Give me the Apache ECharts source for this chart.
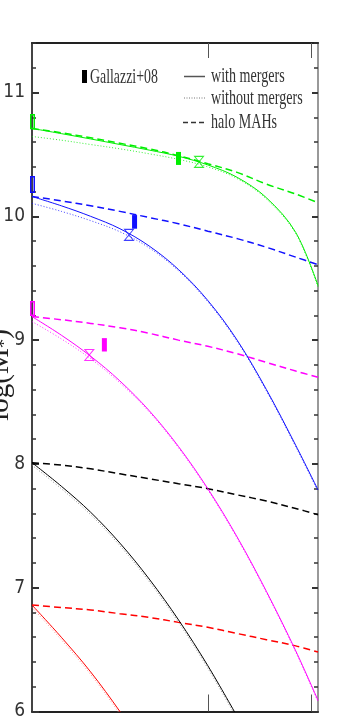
<!DOCTYPE html>
<html>
<head>
<meta charset="utf-8">
<script src="https://cdn.jsdelivr.net/npm/echarts@6/dist/echarts.min.js"></script>
<style>
  html, body { margin: 0; padding: 0; background: #fff; }
  #chart { width: 337px; height: 721px; }
</style>
</head>
<body>
<div id="chart"></div>
<script>
// x positions are log10(1+z)
const xLog = [0, 0.05, 0.1, 0.15, 0.2, 0.25, 0.3, 0.35, 0.4, 0.45, 0.488]
const zTicks = [1, 2]
const yMajor = [6, 7, 8, 9, 10, 11]

// log(M*) tracks: with mergers / without mergers / halo MAHs
const greenWith = [10.71, 10.668, 10.625, 10.58, 10.535, 10.485, 10.415, 10.315, 10.15, 9.87, 9.44]
const greenWithout = [10.645, 10.615, 10.58, 10.545, 10.505, 10.46, 10.40, 10.305, 10.14, 9.86, 9.43]
const greenHalo = [10.71, 10.675, 10.635, 10.59, 10.545, 10.49, 10.425, 10.355, 10.26, 10.18, 10.11]

const blueWith = [10.16, 10.085, 10.0, 9.90, 9.76, 9.57, 9.32, 9.00, 8.60, 8.15, 7.79]
const blueWithout = [10.105, 10.04, 9.965, 9.875, 9.745, 9.56, 9.31, 8.99, 8.59, 8.14, 7.78]
const blueHalo = [10.16, 10.125, 10.085, 10.04, 9.99, 9.94, 9.88, 9.82, 9.75, 9.67, 9.61]

const magentaWith = [9.19, 9.04, 8.87, 8.67, 8.43, 8.14, 7.80, 7.41, 6.97, 6.49, 6.09]
const magentaWithout = [9.15, 9.01, 8.85, 8.655, 8.42, 8.13, 7.79, 7.40, 6.96, 6.48, 6.08]
const magentaHalo = [9.19, 9.165, 9.135, 9.10, 9.055, 9.00, 8.95, 8.89, 8.82, 8.75, 8.70]

const blackWith = [8.01, 7.82, 7.61, 7.36, 7.07, 6.74, 6.37, 5.96]
const blackWithout = [7.99, 7.80, 7.59, 7.34, 7.05, 6.72, 6.35, 5.94]
const blackHalo = [8.01, 7.99, 7.96, 7.92, 7.88, 7.84, 7.80, 7.75, 7.70, 7.64, 7.59]

const redWith = [6.86, 6.60, 6.32, 6.0, 5.65]
const redWithout = [6.84, 6.58, 6.30, 5.98, 5.63]
const redHalo = [6.86, 6.84, 6.82, 6.79, 6.76, 6.72, 6.68, 6.63, 6.58, 6.53, 6.48]

// z=0 observed ranges [x, low, high]
const obsGreen = [0, 10.71, 10.82]
const obsBlue = [0, 10.195, 10.32]
const obsMagenta = [0, 9.20, 9.31]

// Gallazzi+08 [x, low, high]
const galGreen = [0.25, 10.415, 10.52]
const galBlue = [0.175, 9.90, 10.01]
const galMagenta = [0.1235, 8.908, 9.016]

// star markers [x, y]
const starGreen = [0.285, 10.44]
const starBlue = [0.1655, 9.85]
const starMagenta = [0.0978, 8.88]

const COLORS = { green: '#00ee00', blue: '#1010ff', magenta: '#ff00ff', black: '#000000', red: '#ff0000' }

const pairs = (ys) => ys.map((y, i) => [xLog[i], y])

const lineSeries = (ys, color, kind) => ({
  type: 'line',
  data: pairs(ys),
  symbol: 'none',
  smooth: 0.35,
  clip: true,
  lineStyle: {
    color,
    width: kind === 'dashed' ? 1.5 : 1,
    type: kind === 'dashed' ? [7, 4] : kind === 'dotted' ? [1, 2] : 'solid',
    opacity: kind === 'dotted' ? 0.8 : 1
  },
  z: kind === 'solid' ? 3 : 2
})

const rectSeries = (item, color, filled) => ({
  type: 'custom',
  data: [item],
  encode: { x: 0, y: [1, 2] },
  clip: false,
  z: 4,
  renderItem: (params, api) => {
    const lo = api.coord([api.value(0), api.value(1)])
    const hi = api.coord([api.value(0), api.value(2)])
    const w = filled ? 5 : 3.5
    return {
      type: 'rect',
      shape: { x: lo[0] - w / 2 + (filled ? 0 : 0.5), y: hi[1], width: w, height: lo[1] - hi[1] },
      style: filled ? { fill: color } : { fill: 'none', stroke: color, lineWidth: 1.5 }
    }
  }
})

const starSeries = (pt, color) => ({
  type: 'scatter',
  data: [pt],
  symbol: 'path://M0,0 L10,0 L0,12 L10,12 Z',
  symbolSize: [9, 11],
  itemStyle: { color: 'rgba(0,0,0,0)', borderColor: color, borderWidth: 1 },
  z: 5
})

const series = [
  lineSeries(greenHalo, COLORS.green, 'dashed'),
  lineSeries(greenWithout, COLORS.green, 'dotted'),
  lineSeries(greenWith, COLORS.green, 'solid'),
  lineSeries(blueHalo, COLORS.blue, 'dashed'),
  lineSeries(blueWithout, COLORS.blue, 'dotted'),
  lineSeries(blueWith, COLORS.blue, 'solid'),
  lineSeries(magentaHalo, COLORS.magenta, 'dashed'),
  lineSeries(magentaWithout, COLORS.magenta, 'dotted'),
  lineSeries(magentaWith, COLORS.magenta, 'solid'),
  lineSeries(blackHalo, COLORS.black, 'dashed'),
  lineSeries(blackWithout, '#777', 'dotted'),
  lineSeries(blackWith, COLORS.black, 'solid'),
  lineSeries(redHalo, COLORS.red, 'dashed'),
  lineSeries(redWithout, '#ff7777', 'dotted'),
  lineSeries(redWith, COLORS.red, 'solid'),
  rectSeries(obsGreen, COLORS.green, false),
  rectSeries(obsBlue, COLORS.blue, false),
  rectSeries(obsMagenta, COLORS.magenta, false),
  rectSeries(galGreen, COLORS.green, true),
  rectSeries(galBlue, COLORS.blue, true),
  rectSeries(galMagenta, COLORS.magenta, true),
  starSeries(starGreen, COLORS.green),
  starSeries(starBlue, COLORS.blue),
  starSeries(starMagenta, COLORS.magenta)
]

const xTickVals = zTicks.map(z => Math.log10(1 + z))

const xAxisBase = (position, tickLen) => ({
  type: 'value',
  position,
  min: 0,
  max: 0.488,
  axisLine: { show: true, onZero: false, lineStyle: { color: '#222', width: 2 } },
  axisTick: { show: true, inside: true, length: tickLen, customValues: xTickVals, lineStyle: { color: '#555', width: 1 } },
  axisLabel: { show: false },
  splitLine: { show: false }
})

const yAxisBase = (position, opts) => ({
  type: 'value',
  position,
  min: 6,
  max: 11.4,
  splitLine: { show: false },
  ...opts
})

const LABEL_FONT = "'Liberation Sans Narrow', 'DejaVu Sans Condensed', sans-serif"
const TEXT_FONT = "'Liberation Serif', 'DejaVu Serif', serif"

const chart = echarts.init(document.getElementById('chart'))

chart.setOption({
  animation: false,
  backgroundColor: '#fff',
  grid: { left: 32, right: 19, top: 43, bottom: 9 },
  xAxis: [xAxisBase('bottom', 17), xAxisBase('top', 15)],
  yAxis: [
    yAxisBase('left', {
      axisLine: { show: true, lineStyle: { color: '#444', width: 2 } },
      axisTick: { show: true, inside: true, length: 7, customValues: yMajor, lineStyle: { color: '#333', width: 2 } },
      axisLabel: { show: true, customValues: yMajor, margin: 7, color: '#333', fontSize: 19, fontFamily: LABEL_FONT }
    }),
    yAxisBase('left', {
      interval: 0.2,
      axisLine: { show: false },
      axisTick: { show: true, inside: true, length: 4, lineStyle: { color: '#333', width: 1.5 } },
      axisLabel: { show: false }
    }),
    yAxisBase('right', {
      interval: 0.2,
      axisLine: { show: true, lineStyle: { color: '#999', width: 2 } },
      axisTick: { show: true, inside: true, length: 4, lineStyle: { color: '#333', width: 1.5 } },
      axisLabel: { show: false }
    }),
    yAxisBase('right', {
      axisLine: { show: false },
      axisTick: { show: true, inside: true, length: 6, customValues: yMajor, lineStyle: { color: '#333', width: 2 } },
      axisLabel: { show: false }
    })
  ],
  graphic: [
    {
      type: 'text', x: 0, y: 375, rotation: Math.PI / 2,
      style: {
        text: '{a|log(M}{b|*}{a|)}',
        align: 'center', verticalAlign: 'middle',
        rich: {
          a: { font: '29px ' + TEXT_FONT, fill: '#222' },
          b: { font: '19px ' + TEXT_FONT, fill: '#222', padding: [10, 0, 0, 0] }
        }
      }
    },
    { type: 'rect', shape: { x: 82, y: 70, width: 5, height: 13 }, style: { fill: '#000' } },
    { type: 'text', x: 90, y: 77.5, scaleX: 0.63, style: { text: 'Gallazzi+08', font: '22px ' + TEXT_FONT, fill: '#333', verticalAlign: 'middle' } },
    { type: 'line', shape: { x1: 184, y1: 76.5, x2: 205, y2: 76.5 }, style: { stroke: '#555', lineWidth: 1.5 } },
    { type: 'line', shape: { x1: 184, y1: 98, x2: 205, y2: 98 }, style: { stroke: '#777', lineWidth: 1, lineDash: [1, 1.5] } },
    { type: 'line', shape: { x1: 183, y1: 122.5, x2: 205, y2: 122.5 }, style: { stroke: '#333', lineWidth: 1.5, lineDash: [5, 3] } },
    { type: 'text', x: 211, y: 76.5, scaleX: 0.64, style: { text: 'with mergers', font: '22px ' + TEXT_FONT, fill: '#333', verticalAlign: 'middle' } },
    { type: 'text', x: 211, y: 98, scaleX: 0.64, style: { text: 'without mergers', font: '22px ' + TEXT_FONT, fill: '#333', verticalAlign: 'middle' } },
    { type: 'text', x: 211, y: 122, scaleX: 0.64, style: { text: 'halo MAHs', font: '22px ' + TEXT_FONT, fill: '#333', verticalAlign: 'middle' } }
  ],
  series
})

window.addEventListener('resize', () => chart.resize())
</script>
</body>
</html>
